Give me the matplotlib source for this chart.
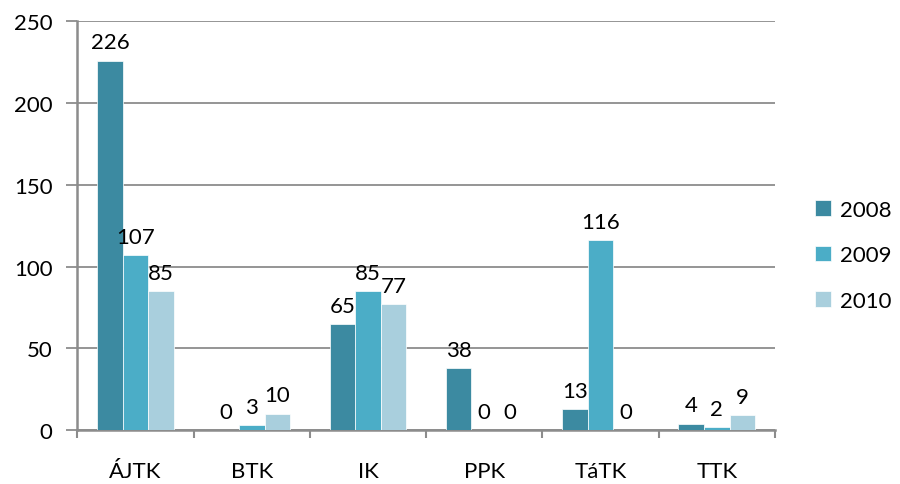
import matplotlib.pyplot as plt
import numpy as np

categories = ['ÁJTK', 'BTK', 'IK', 'PPK', 'TáTK', 'TTK']
years = ['2008', '2009', '2010']
v2008 = [226, 0, 65, 38, 13, 4]
v2009 = [107, 3, 85, 0, 116, 2]
v2010 = [85, 10, 77, 0, 0, 9]
colors = ['#3C8AA1', '#4BADC7', '#A9CFDD']

plt.rcParams['font.family'] = ['Lato', 'DejaVu Sans']
fs = 16

fig = plt.figure(figsize=(9, 4.85), dpi=100)
ax = fig.add_axes([0.086, 0.111, 0.775, 0.843])

x = np.arange(len(categories))
w = 0.22
for i, (vals, lab) in enumerate(zip([v2008, v2009, v2010], years)):
    pos = x + (i - 1) * w
    ax.bar(pos, vals, width=w, color=colors[i], label=lab, zorder=3,
           edgecolor='white', linewidth=0.5)
    for p, v in zip(pos, vals):
        ax.annotate(str(v), (p, v), xytext=(0, 6), textcoords='offset points',
                    ha='center', va='bottom', fontsize=fs)

ax.set_xlim(-0.5, len(categories) - 0.5)
ax.set_ylim(0, 250)
ax.set_yticks(range(0, 251, 50))
ax.yaxis.grid(True, color='#8c8c8c', linewidth=1.3, zorder=0)
ax.set_axisbelow(True)
ax.tick_params(axis='y', length=8, color='#8c8c8c', width=1.3, labelsize=fs, pad=10)

ax.set_xticks(x)
ax.set_xticklabels(categories, fontsize=fs)
ax.tick_params(axis='x', length=0, pad=22)
ax.set_xticks(np.arange(-0.5, len(categories)), minor=True)
ax.tick_params(axis='x', which='minor', length=6, color='#8c8c8c', width=1.5)

for s in ['top', 'right']:
    ax.spines[s].set_visible(False)
for s in ['left', 'bottom']:
    ax.spines[s].set_color('#8c8c8c')
    ax.spines[s].set_linewidth(1.8)

ax.legend(loc='center left', bbox_to_anchor=(1.058, 0.428), frameon=False,
          fontsize=fs, handlelength=0.7, handleheight=0.7, borderpad=0,
          borderaxespad=0, labelspacing=1.15, handletextpad=0.4)

fig.savefig('out.png', dpi=100)
